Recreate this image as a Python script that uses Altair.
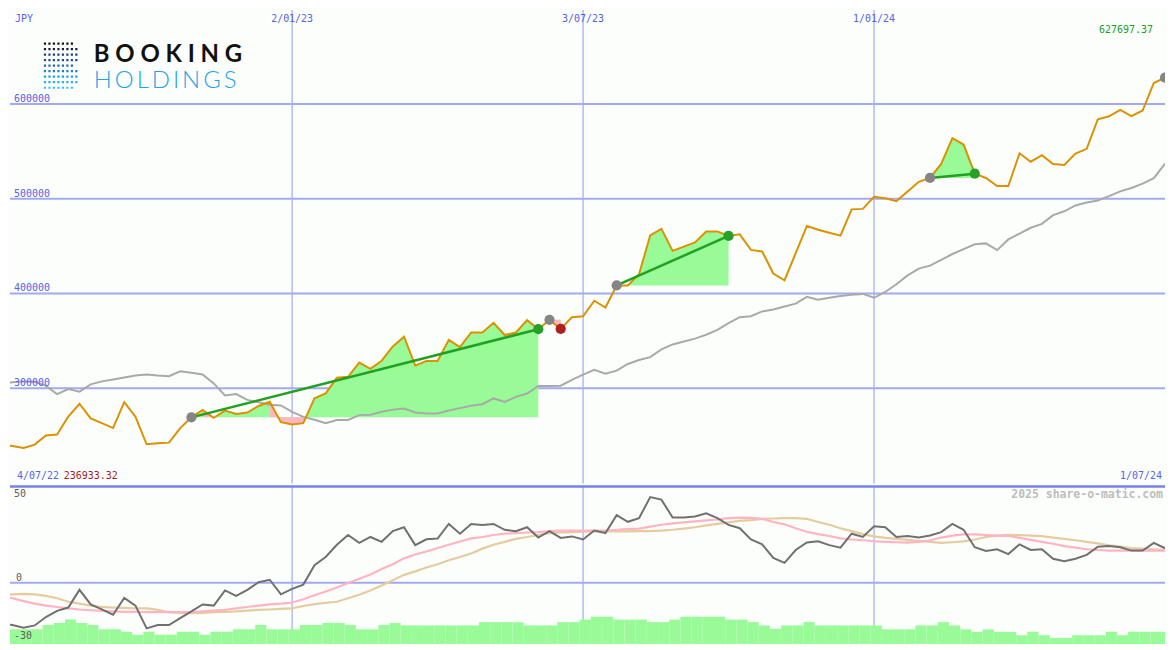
import altair as alt
import pandas as pd

# ---------------- data ----------------
dates = pd.date_range("2022-07-04", periods=105, freq="7D")
date_labels = [f"{d.day}/{d.month:02d}/{d.year % 100:02d}" for d in dates]

price = [240500, 238980, 236933.32, 240500, 250050, 251080, 270160, 283590, 268210, 263080,
         257950, 285330, 269950, 240820, 241850, 242570, 257950, 269230, 277130, 268720,
         276410, 272820, 274360, 281230, 285640, 264100, 261750, 263080, 289440, 294560,
         310970, 312000, 326970, 320510, 329020, 344100, 354360, 323900, 328720, 328720,
         350970, 343380, 358770, 358770, 369020, 356100, 358770, 371790, 362250, 372100,
         362560, 374870, 375890, 392300, 385120, 408400, 408400, 420300, 461330, 468200,
         444920, 449430, 453840, 465430, 465430, 460710, 462350, 445940, 444300, 421020,
         413840, 442560, 471270, 467170, 464100, 461020, 488710, 489220, 502040, 500500,
         497430, 507480, 517730, 521840, 536600, 563890, 557120, 526350, 521840, 513320,
         513320, 547890, 538960, 545830, 536600, 535580, 547480, 552600, 583780, 586860,
         593630, 587170, 593010, 622040, 627697.37]

moving_avg = [305100, 306200, 307200, 306700, 302400, 293800, 299000, 296400, 304100, 307200,
              309200, 311300, 313300, 314400, 313300, 312600, 317900, 316400, 314400, 305100,
              292300, 293800, 287700, 285100, 282600, 281800, 275100, 269700, 266700, 263100,
              266500, 266500, 271600, 272000, 275100, 277400, 278500, 274400, 273300, 273300,
              276400, 279000, 281500, 283100, 289200, 285600, 290800, 294400, 302400, 302400,
              302600, 308700, 314400, 319500, 315400, 318500, 325600, 329700, 332800, 341000,
              346200, 349200, 352300, 356400, 361500, 368700, 374900, 375900, 381000, 383100,
              386200, 389200, 396400, 393300, 395400, 397400, 398500, 399500, 395400, 401500,
              409700, 419000, 426200, 429300, 435400, 441600, 446700, 451800, 452800, 445700,
              457000, 463100, 469300, 473400, 482600, 486700, 492800, 495900, 498000, 502600,
              507700, 511300, 515900, 521600, 537000]

oscillator = [-21, -21.8, -23.2, -22, -17.7, -14.5, -12.8, -3.7, -11.2, -13.7,
              -16.5, -7.8, -11.8, -23.5, -21.8, -21.8, -18.2, -14.8, -11.2, -11.8,
              -4, -6.8, -3.7, 0.2, 1.5, -6, -3.2, -1, 9, 13.2,
              19.5, 24.5, 20.5, 23.5, 21, 26.5, 28.5, 19.3, 22.3, 22.7,
              30.2, 25.2, 30.2, 29.7, 30.2, 27.2, 26.5, 28.5, 23.2, 26.5,
              23, 23.8, 22.2, 26.8, 25.5, 34.7, 31.3, 33.2, 44, 42.7,
              33.5, 33.5, 34, 35.7, 33.2, 29.7, 28, 22.2, 19.7, 12.7,
              10.2, 16.8, 20.7, 21.3, 19.3, 18, 25.2, 23.5, 29, 28.5,
              23.5, 24, 23.2, 24.3, 26, 30.2, 27.2, 18.2, 16.3, 17.2,
              14.7, 19.7, 16.8, 17.2, 12.3, 11, 12.3, 14.3, 18.5, 18.8,
              18.2, 16.5, 16.5, 20.5, 17.7]

signal_fast = [-7, -8, -9.5, -10.8, -11.8, -12.5, -13.2, -13.8, -14.2, -14.5,
               -14.8, -15, -15, -15.2, -15.2, -15.2, -15.2, -15.2, -14.8, -14.4,
               -14, -13.2, -12.5, -11.8, -11.2, -10.8, -10.2, -8.5, -6.5, -4.5,
               -2.5, -0.2, 2, 4.2, 7, 9.5, 12.5, 14.5, 16, 17.8,
               19.5, 21.2, 22.8, 23.5, 24.5, 25.2, 25.5, 25.8, 26, 26.5,
               26.8, 26.8, 26.8, 26.8, 26.8, 27.2, 27.5, 27.8, 28.8, 29.8,
               30.5, 31, 31.5, 32, 32.5, 33.2, 33.5, 33.3, 32.8, 31.2,
               30, 28, 26.2, 25, 24, 22.8, 22.2, 21.8, 21.3, 21,
               20.8, 20.6, 21, 21.8, 23.2, 24.2, 24.8, 24.8, 24.5, 24.2,
               24, 23, 22, 21, 20, 18.8, 18, 17.2, 16.8, 16.5,
               16.5, 16.5, 16.5, 16.5, 16.5]

signal_slow = [-6, -6, -5.8, -6, -6.8, -8, -9.8, -10.8, -11.8, -12.5,
               -12.8, -13, -13.2, -13.2, -14, -15.2, -15.5, -15.7, -15.5, -15.2,
               -15, -14.8, -14.4, -14, -13.8, -13.5, -13.2, -12, -11, -10.4,
               -9.8, -8, -6.2, -4, -1.5, 1.2, 4, 5.8, 7.8, 9.5,
               11.5, 13.2, 15, 17.5, 19.5, 21, 22.5, 23.5, 24.5, 25.5,
               25.8, 26, 26.2, 26.4, 26.4, 26.4, 26.4, 26.5, 26.5, 26.8,
               27.2, 27.8, 28.5, 29.5, 30.2, 31, 31.8, 32.2, 32.8, 33,
               33.2, 33.2, 32.8, 31.2, 29.8, 28, 26.5, 25, 23.8, 23,
               22.5, 22, 21.5, 21, 20.5, 20.8, 21.2, 22.2, 23.5, 24.2,
               24.6, 24.5, 24.2, 23.9, 23.2, 22.5, 21.8, 21, 20.2, 19.2,
               18.5, 17.8, 17.5, 17.1, 16.8]

volume_bar = [-24, -24, -24, -24, -21.8, -20.7, -19, -20.7, -21.8, -24,
              -24, -25.3, -26.8, -25.3, -26.8, -26.8, -25.3, -25.3, -26.8, -25.3,
              -25.3, -24, -24, -21.8, -24, -24, -24, -21.8, -21.8, -20.7,
              -20.7, -21.8, -24, -24, -21.8, -20.7, -22, -22, -22, -22,
              -22, -22, -22, -20.3, -20.3, -20.3, -20.3, -22, -22, -22,
              -20.3, -20.3, -19, -17.5, -17.5, -19, -19, -19, -20.3, -20.3,
              -19, -17.5, -17.5, -17.5, -17.5, -19, -19, -20.3, -22, -23.7,
              -22, -22, -20.3, -22, -22, -22, -22, -22, -22, -24,
              -24, -24, -22, -22, -20.3, -22, -24, -25.3, -24, -25.3,
              -25.3, -27, -25.3, -27, -28.5, -28.5, -27, -27, -27, -25.3,
              -27, -25.3, -25.3, -25.3, -25.3]

trade_entry = [17, 49, 55, 83, 104]
trade_exit = [48, 50, 65, 87]

price_ticks = [300000, 400000, 500000, 600000]
grid_dates = ["2/01/23", "3/07/23", "1/01/24"]

# ---------------- layout / styles ----------------
W = 1159
HT = 475
HB = 159
MONO = "DejaVu Sans Mono"
BLUE_TXT = "#5663e4"

xs = alt.Scale(domain=[0.79, 104.0], nice=False, zero=False)
ys_top = alt.Scale(domain=[199490, 698960], nice=False, zero=False)
ys_bot = alt.Scale(domain=[-31.5, 50], nice=False, zero=False)

df = pd.DataFrame({
    "i": list(range(len(price))),
    "date": date_labels,
    "price": price,
    "ma": moving_avg,
    "osc": oscillator,
    "fast": signal_fast,
    "slow": signal_slow,
    "bar": volume_bar,
})
df["i0"] = df["i"] - 0.3
df["i1"] = df["i"] + 0.7

grid_idx = [date_labels.index(g) for g in grid_dates]
grid_df = pd.DataFrame({"i": grid_idx, "label": grid_dates})

# trade fills / lines / markers
green_rows, pink_rows, trend_rows, marker_rows = [], [], [], []
for t, e in enumerate(trade_entry):
    base = price[e]
    marker_rows.append({"i": e, "price": base, "col": "#858585"})
    if t < len(trade_exit):
        x = trade_exit[t]
        win = price[x] >= base
        for j in range(e, x + 1):
            green_rows.append({"trade": t, "i": j, "price": price[j], "base": base})
        for j in range(e, x):
            if price[j + 1] < base:
                seg = f"{t}-{j}"
                pink_rows.append({"seg": seg, "i": j, "price": price[j], "base": base})
                pink_rows.append({"seg": seg, "i": j + 1, "price": price[j + 1], "base": base})
        if win:
            trend_rows.append({"trade": t, "i": e, "price": base})
            trend_rows.append({"trade": t, "i": x, "price": price[x]})
        marker_rows.append({"i": x, "price": price[x],
                            "col": "#27a027" if win else "#b02020"})

green_df = pd.DataFrame(green_rows)
pink_df = pd.DataFrame(pink_rows)
trend_df = pd.DataFrame(trend_rows)
marker_df = pd.DataFrame(marker_rows)

X = alt.X("i:Q", scale=xs, axis=None)
ONE = pd.DataFrame({"a": [0]})


def txt(s, x, y, color, size=10, align="left", font=MONO, weight="normal"):
    return alt.Chart(pd.DataFrame({"t": [s]})).mark_text(
        align=align, baseline="alphabetic", font=font, fontSize=size,
        color=color, fontWeight=weight
    ).encode(text="t:N", x=alt.value(x), y=alt.value(y))


# ---------------- top panel ----------------
hgrid = alt.Chart(pd.DataFrame({"v": price_ticks})).mark_rule(
    color="#a2aaf2", strokeWidth=2).encode(y=alt.Y("v:Q", scale=ys_top, axis=None))
vgrid_top = alt.Chart(grid_df).mark_rule(color="#a6b0f6", strokeWidth=1.3).encode(x=X)

fill_green = alt.Chart(green_df).mark_area(color="#98fb98", opacity=1).encode(
    x=X, y=alt.Y("price:Q", scale=ys_top, axis=None), y2="base:Q", detail="trade:N")
fill_pink = alt.Chart(pink_df).mark_area(color="#ffb6c1", opacity=1).encode(
    x=X, y=alt.Y("price:Q", scale=ys_top, axis=None), y2="base:Q", detail="seg:N")

ma_line = alt.Chart(df).mark_line(color="#a9a9a9", strokeWidth=2, clip=True).encode(
    x=X, y=alt.Y("ma:Q", scale=ys_top, axis=None))
price_line = alt.Chart(df).mark_line(color="#db9100", strokeWidth=2, clip=True).encode(
    x=X, y=alt.Y("price:Q", scale=ys_top, axis=None))
trend = alt.Chart(trend_df).mark_line(color="#22a022", strokeWidth=2.5).encode(
    x=X, y=alt.Y("price:Q", scale=ys_top, axis=None), detail="trade:N")
markers = alt.Chart(marker_df).mark_circle(size=105, opacity=1, clip=True).encode(
    x=X, y=alt.Y("price:Q", scale=ys_top, axis=None), color=alt.Color("col:N", scale=None))

ylabels = alt.Chart(pd.DataFrame({"v": price_ticks, "t": [str(v) for v in price_ticks]})).mark_text(
    align="left", baseline="alphabetic", font=MONO, fontSize=10, color=BLUE_TXT, dy=-2
).encode(y=alt.Y("v:Q", scale=ys_top, axis=None), x=alt.value(4), text="t:N")

date_top = alt.Chart(grid_df).mark_text(
    align="center", baseline="alphabetic", font=MONO, fontSize=10, color=BLUE_TXT
).encode(x=X, y=alt.value(12), text="label:N")

lo_val = min(price)
hi_val = max(price)
top_texts = [
    txt("JPY", 5, 12, BLUE_TXT),
    txt(f"{hi_val:.2f}", 1147, 23, "#229a22", align="right"),
    txt(date_labels[0], 7, 471, BLUE_TXT),
    txt(f"{lo_val:.2f}", 54, 471, "#a01c1c"),
    txt(date_labels[-1], 1156, 471, BLUE_TXT, align="right"),
]

# logo: dotted square as dashed rules, then the two words
dot_rows = [7, 8, 8, 8, 7, 8, 8, 8, 7]
dot_cols = ["#111111", "#1b1d3d", "#1f3b78", "#204f90", "#2467b0", "#1e80ca",
            "#18a0e6", "#22b0f0", "#3dbdf2"]
logo = []
for r, (n, c) in enumerate(zip(dot_rows, dot_cols)):
    y = (34.5 + 5.67 * r) * 0.9754
    logo.append(alt.Chart(ONE).mark_rule(color=c, strokeWidth=2.2, strokeDash=[2.2, 2.3]).encode(
        x=alt.value(34), x2=alt.value(34 + n * 4.5 - 2.3), y=alt.value(y)))
logo.append(txt("B O O K I N G", 84, 52, "#111111", size=24, font="Lato", weight="bold"))
logo.append(txt("H\u2009O\u2009L\u2009D\u2009I\u2009N\u2009G\u2009S", 84, 78.5, "#1ea4e8",
                size=24, font="Lato", weight=300))

top = alt.layer(hgrid, vgrid_top, fill_green, fill_pink, ma_line, price_line, trend, markers,
                ylabels, date_top, *top_texts, *logo).properties(width=W, height=HT)

# ---------------- bottom panel ----------------
YB = lambda f: alt.Y(f, scale=ys_bot, axis=None)
zero = alt.Chart(pd.DataFrame({"v": [0]})).mark_rule(color="#a2aaf2", strokeWidth=2).encode(y=YB("v:Q"))
vgrid_bot = alt.Chart(grid_df).mark_rule(color="#a6b0f6", strokeWidth=1.3).encode(x=X)
bars = alt.Chart(df).mark_rect(color="#98fb98", clip=True).encode(
    x=alt.X("i0:Q", scale=xs, axis=None), x2="i1:Q", y=YB("bar:Q"), y2=alt.value(HB))
slow_line = alt.Chart(df).mark_line(color="#e5cc9e", strokeWidth=2.2, clip=True).encode(x=X, y=YB("slow:Q"))
fast_line = alt.Chart(df).mark_line(color="#ffb3c3", strokeWidth=2.2, clip=True).encode(x=X, y=YB("fast:Q"))
osc_line = alt.Chart(df).mark_line(color="#707070", strokeWidth=2, clip=True).encode(x=X, y=YB("osc:Q"))
border = alt.Chart(ONE).mark_rule(color="#7880ec", strokeWidth=2.5).encode(
    x=alt.value(0), x2=alt.value(W), y=alt.value(1))

bot_texts = [
    txt("50", 4, 12, "#606060"),
    txt("0", 6, 96, "#606060"),
    txt("-30", 4, 154, "#606060"),
    txt("2025 share-o-matic.com", 1157, 12.5, "#bdbdbd", size=11.5, align="right", weight="bold"),
]

bottom = alt.layer(zero, vgrid_bot, bars, slow_line, fast_line, osc_line, border,
                   *bot_texts).properties(width=W, height=HB)

chart = alt.vconcat(top, bottom, spacing=0).properties(padding=0).configure(
    background="#fcfefc"
).configure_view(stroke=None)

chart.save("out.html", embed_options={"renderer": "svg", "actions": False})
